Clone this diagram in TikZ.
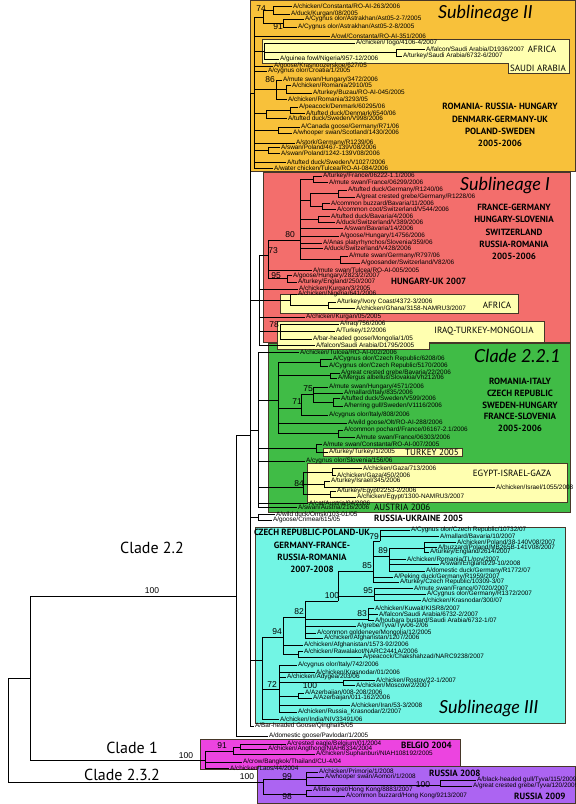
\documentclass[tikz,border=0pt]{standalone}
\usepackage{fontspec}
\setmainfont{Liberation Sans}
\newfontfamily\lbl{PT Sans}
\newfontfamily\ital{Lato}
\definecolor{orangeC}{RGB}{248,193,58}
\definecolor{redC}{RGB}{243,110,108}
\definecolor{greenC}{RGB}{64,188,70}
\definecolor{cyanC}{RGB}{114,245,228}
\definecolor{magC}{RGB}{236,68,224}
\definecolor{purpC}{RGB}{172,100,242}
\definecolor{yelC}{RGB}{255,255,176}
\definecolor{bordC}{RGB}{70,55,40}
\tikzset{
 leaf/.style={anchor=west, inner sep=0.8pt, font=\fontsize{6.4}{7}\selectfont},
 br/.style={line width=0.5pt, black},
 bs/.style={font=\fontsize{8.5}{9}\selectfont, inner sep=0},
 box/.style={draw=bordC, line width=0.6pt},
 reg/.style={font=\lbl\bfseries\fontsize{9}{12.3}\selectfont, align=center, inner sep=0},
 regn/.style={font=\lbl\fontsize{9}{11}\selectfont, inner sep=0},
 subl/.style={font=\ital\itshape\fontsize{18}{18}\selectfont, anchor=base west, inner sep=0},
 clade/.style={font=\lbl\fontsize{16}{16}\selectfont, inner sep=0},
}
\newcommand{\tleaf}[5]{\node[leaf] (#1) at (#3,#4) {#5}; \draw[br] (#2) |- (#1.west);}
\newcommand{\tnode}[4]{\coordinate (#1) at (#3,#4); \draw[br] (#2) |- (#1);}
\begin{document}
\begin{tikzpicture}[x=1pt,y=-1pt]
\useasboundingbox (0,0) rectangle (576,804);
\fill[white] (0,0) rectangle (576,804);
% ---------- coloured regions ----------
\draw[box,fill=orangeC] (250,0) rectangle (575.5,171);
\draw[box,fill=redC] (263,172) rectangle (570,342);
\draw[box,fill=greenC] (268,343) rectangle (570,512);
\draw[box,fill=cyanC] (255,527) rectangle (565,723);
\draw[box,fill=magC] (200,739) rectangle (460,769);
\draw[box,fill=purpC] (257,766) rectangle (575.5,803.5);
\draw[box,fill=yelC] (262,39) -- (569,39) -- (569,73) -- (508,73) -- (508,63) -- (262,63) -- cycle;
\draw[box,fill=yelC] (280,294) rectangle (518,313);
\draw[box,fill=yelC] (277,321) -- (544,321) -- (544,342) -- (429,342) -- (429,349) -- (277,349) -- cycle;
\draw[box,fill=yelC] (323,448) rectangle (462,456);
\draw[box,fill=yelC] (307,463) rectangle (567,502);
% ---------- backbone ----------
\coordinate (R) at (8,730);
\tnode{N1}{R}{30}{678}
\tnode{C232}{R}{263}{782}
\tnode{C22}{N1}{236}{596}
\tnode{C1}{N1}{205}{760}
\tnode{B}{C22}{250}{435}
\tleaf{pav}{C22}{268}{736}{A/domestic goose/Pavlodar/1/2005}
% ---------- Sublineage II ----------
\tnode{O}{B}{254}{93}
\tnode{O74}{O}{263}{17}
\tnode{O74a}{O74}{273}{10}
\tleaf{o1}{O74a}{292}{6}{A/chicken/Constanta/RO-AI-263/2006}
\tleaf{o2}{O74a}{290}{14}{A/duck/Kurgan/08/2005}
\tnode{O91}{O74}{283}{23}
\tleaf{o3}{O91}{304}{19}{A/Cygnus olor/Astrakhan/Ast05-2-7/2005}
\tleaf{o4}{O91}{297}{27}{A/Cygnus olor/Astrakhan/Ast05-2-8/2005}
\tleaf{o5}{O}{330}{36}{A/owl/Constanta/RO-AI-351/2006}
\tnode{OA}{O}{264}{51}
\tleaf{o6}{OA}{355}{43}{A/chicken/Togo/4106-4/2007}
\tnode{OS}{OA}{396}{52}
\tleaf{o7}{OS}{425}{49}{A/falcon/Saudi Arabia/D1936/2007}
\tleaf{o8}{OS}{402}{56}{A/turkey/Saudi Arabia/6732-6/2007}
\tleaf{o9}{OA}{279}{59}{A/guinea fowl/Nigeria/957-12/2006}
\tleaf{o10}{O}{273}{66}{A/goose/Krasnoozerskoe/627/05}
\tleaf{o11}{O}{267}{71}{A/cygnus olor/Croatia/1/2005}
\tnode{O86}{O}{276}{89}
\tleaf{o12}{O86}{282}{80}{A/mute swan/Hungary/3472/2006}
\tnode{ORo}{O86}{286}{89}
\tleaf{o13}{ORo}{291}{85}{A/chicken/Romania/2910/05}
\tleaf{o14}{ORo}{312}{93}{A/turkey/Buzau/RO-AI-045/2005}
\tleaf{o15}{O86}{287}{99}{A/chicken/Romania/3293/05}
\tnode{OD}{O}{266}{113}
\tnode{OD1}{OD}{290}{110}
\tleaf{o16}{OD1}{298}{107}{A/peacock/Denmark/60295/06}
\tleaf{o17}{OD1}{305}{113}{A/tufted duck/Denmark/6540/06}
\tleaf{o18}{OD}{287}{118}{A/tufted duck/Sweden/V998/2006}
\tnode{OC}{O}{278}{130}
\tleaf{o19}{OC}{300}{127}{A/Canada goose/Germany/R71/06}
\tleaf{o20}{OC}{292}{133}{A/whooper swan/Scotland/1430/2006}
\tleaf{o21}{O}{295}{143}{A/stork/Germany/R1239/06}
\tnode{OP}{O}{268}{150}
\tleaf{o22}{OP}{280}{147}{A/swan/Poland/467-139V08/2006}
\tleaf{o23}{OP}{280}{153}{A/swan/Poland/1242-139V08/2006}
\tleaf{o24}{O}{286}{162}{A/tufted duck/Sweden/V1027/2006}
\tleaf{o25}{O}{273}{168}{A/water chicken/Tulcea/RO-AI-084/2006}
% ---------- Sublineage I ----------
\tnode{RA}{B}{259}{300}
\tnode{R73}{RA}{268}{255}
\tnode{R80}{R73}{300}{240}
\tnode{RFr}{R80}{313}{179}
\tleaf{r1}{RFr}{322}{176}{A/turkey/France/06222-1.1/2006}
\tleaf{r2}{RFr}{328}{182}{A/mute swan/France/06299/2006}
\tnode{RG1}{R80}{310}{200}
\tnode{RG1a}{RG1}{338}{193}
\tleaf{r3}{RG1a}{347}{190}{A/tufted duck/Germany/R1240/06}
\tleaf{r4}{RG1a}{355}{197}{A/great crested grebe/Germany/R1228/06}
\tnode{RG1b}{RG1}{322}{206}
\tleaf{r5}{RG1b}{330}{203}{A/common buzzard/Bavaria/11/2006}
\tleaf{r6}{RG1b}{336}{209}{A/common coot/Switzerland/V544/2006}
\tnode{RB}{R80}{318}{219}
\tleaf{r7}{RB}{330}{216}{A/tufted duck/Bavaria/4/2006}
\tleaf{r8}{RB}{335}{222}{A/duck/Switzerland/V389/2006}
\tleaf{r9}{R80}{343}{228}{A/swan/Bavaria/14/2006}
\tleaf{r10}{R80}{339}{236}{A/goose/Hungary/14756/2006}
\tleaf{r11}{R80}{322}{243}{A/Anas platyrhynchos/Slovenia/359/06}
\tleaf{r12}{R80}{323}{248}{A/duck/Switzerland/V428/2006}
\tnode{RM}{R80}{340}{259}
\tleaf{r13}{RM}{348}{256}{A/mute swan/Germany/R797/06}
\tleaf{r14}{RM}{360}{263}{A/goosander/Switzerland/V82/06}
\tleaf{r15}{R73}{312}{270}{A/mute swan/Tulcea/RO-AI-005/2005}
\tnode{R95}{R73}{287}{278}
\tleaf{r16}{R95}{292}{275.5}{A/goose/Hungary/2823/2/2007}
\tleaf{r17}{R95}{297}{282}{A/turkey/England/250/2007}
\tleaf{r18}{RA}{298}{289}{A/chicken/Kurgan/3/2005}
\tnode{RAf}{RA}{290}{300}
\tleaf{r19}{RAf}{297}{294}{A/chicken/Nigeria/641/2006}
\tnode{RAf2}{RAf}{328}{305}
\tleaf{r20}{RAf2}{336}{302}{A/turkey/Ivory Coast/4372-3/2006}
\tleaf{r21}{RAf2}{355}{308}{A/chicken/Ghana/3158-NAMRU3/2007}
\tleaf{r22}{RA}{305}{317}{A/chicken/Kurgan/05/2005}
\tnode{R78}{RA}{280}{331}
\tleaf{r23}{R78}{339}{324}{A/Iraq/756/2006}
\tleaf{r24}{R78}{335}{331}{A/Turkey/12/2006}
\tleaf{r25}{R78}{312}{339}{A/bar-headed goose/Mongolia/1/05}
\tleaf{r26}{RA}{315}{345}{A/falcon/Saudi Arabia/D1795/2005}
% ---------- Clade 2.2.1 ----------
\tnode{G}{B}{258}{430}
\tleaf{g1}{G}{299}{352}{A/chicken/Tulcea/RO-AI-002/2006}
\tnode{G2}{G}{278}{400}
\tnode{GC}{G2}{320}{362}
\tleaf{g2}{GC}{332}{359}{A/Cygnus olor/Czech Republic/6208/06}
\tleaf{g3}{GC}{328}{366}{A/Cygnus olor/Czech Republic/5170/2006}
\tnode{GB}{G2}{330}{375}
\tleaf{g4}{GB}{340}{373}{A/great crested grebe/Bavaria/22/2006}
\tleaf{g5}{GB}{337}{378}{A/Mergus albellus/Slovakia/Vh212/06}
\tnode{G71}{G2}{301}{408}
\tnode{G75}{G71}{313}{394}
\tleaf{g6}{G75}{328}{387}{A/mute swan/Hungary/4571/2006}
\tleaf{g7}{G75}{343}{393}{A/mallard/Italy/835/2006}
\tnode{GS}{G75}{333}{402}
\tleaf{g8}{GS}{340}{398}{A/tufted duck/Sweden/V599/2006}
\tleaf{g9}{GS}{343}{406}{A/herring gull/Sweden/V1116/2006}
\tleaf{g10}{G71}{328}{415}{A/cygnus olor/Italy/808/2006}
\tleaf{g11}{G2}{347}{423}{A/wild goose/Olt/RO-AI-288/2006}
\tnode{GF}{G2}{338}{433}
\tleaf{g12}{GF}{343}{430}{A/common pochard/France/06167-2.1/2006}
\tleaf{g13}{GF}{355}{437}{A/mute swan/France/06303/2006}
\tnode{GT}{G}{316}{448}
\tleaf{g14}{GT}{322}{444}{A/mute swan/Constanta/RO-AI-007/2005}
\tleaf{g15}{GT}{328}{452}{A/turkey/Turkey/1/2005}
\tleaf{g16}{G}{305}{461}{A/cygnus olor/Slovenia/156/06}
\tnode{G84}{G}{303}{487}
\tnode{GG}{G84}{332}{472}
\tleaf{g17}{GG}{362}{468}{A/chicken/Gaza/713/2006}
\tleaf{g18}{GG}{336}{475}{A/chicken/Gaza/450/2006}
\tnode{GI}{G84}{324}{484}
\tleaf{g19}{GI}{330}{481}{A/turkey/Israel/345/2006}
\tleaf{g20}{GI}{495}{487}{A/chicken/Israel/1055/2008}
\tnode{GE}{G84}{330}{494}
\tleaf{g21}{GE}{336}{491}{A/turkey/Egypt/2253-2/2006}
\tleaf{g22}{GE}{356}{497}{A/chicken/Egypt/1300-NAMRU3/2007}
\tleaf{g23}{G}{308}{503}{A/cat/Austria/04/2006}
\tleaf{g24}{G}{297}{507.5}{A/swan/Austria/216/2006}
% ---------- Omsk / Crimea ----------
\tnode{OK}{B}{258}{517}
\tleaf{k1}{OK}{275}{514}{A/wild duck/Omsk/103-01/05}
\tleaf{k2}{OK}{272}{520}{A/goose/Crimea/615/05}
% ---------- Sublineage III ----------
\tnode{CY}{B}{262}{660}
\tnode{C94}{CY}{283}{637}
\tnode{C82}{C94}{305}{617}
\tnode{C100}{C82}{338}{601}
\tnode{C85}{C100}{373}{571}
\tnode{C79}{C85}{380}{541}
\tleaf{c1}{C79}{410}{530}{A/Cygnus olor/Czech Republic/10732/07}
\tleaf{c2}{C79}{439}{536}{A/mallard/Bavaria/10/2007}
\tnode{C89}{C85}{389}{556}
\tnode{CP}{C89}{424}{548}
\tleaf{c3}{CP}{456}{542}{A/chicken/Poland/38-140V08/2007}
\tleaf{c4}{CP}{437}{547}{A/buzzard/Poland/MB265B-141V08/2007}
\tleaf{c5}{CP}{429}{552}{A/turkey/England/2614/2007}
\tleaf{c6}{C89}{406}{559}{A/chicken/Romania/TL/nov/2007}
\tleaf{c7}{C89}{439}{564}{A/swan/England/29-10/2008}
\tleaf{c8}{C89}{425}{571}{A/domestic duck/Germany/R1772/07}
\tleaf{c9}{C85}{393}{577}{A/Peking duck/Germany/R1959/2007}
\tleaf{c10}{C85}{399}{582}{A/turkey/Czech Republic/10309-3/07}
\tnode{C95}{C100}{374}{596}
\tleaf{c11}{C95}{413}{588}{A/mute swan/France/07020/2007}
\tleaf{c12}{C95}{426}{594}{A/Cygnus olor/Germany/R1372/2007}
\tleaf{c13}{C95}{421}{600}{A/chicken/Krasnodar/300/07}
\tnode{C83}{C82}{368}{619}
\tleaf{c14}{C83}{374}{608}{A/chicken/Kuwait/KISR8/2007}
\tleaf{c15}{C83}{378}{614}{A/falcon/Saudi Arabia/6732-2/2007}
\tleaf{c16}{C83}{374}{620}{A/houbara bustard/Saudi Arabia/6732-1/07}
\tleaf{c17}{C82}{356}{626}{A/grebe/Tyva/Tyv06-2/06}
\tleaf{c18}{C82}{316}{633}{A/common goldeneye/Mongolia/12/2005}
\tleaf{c19}{C82}{323}{638}{A/chicken/Afghanistan/1207/2006}
\tleaf{c20}{C94}{303}{645}{A/chicken/Afghanistan/1573-92/2006}
\tnode{CR}{C94}{298}{654}
\tleaf{c21}{CR}{303}{651}{A/chicken/Rawalakot/NARC2441A/2006}
\tleaf{c22}{CR}{362}{657}{A/peacock/Chakshahzad/NARC9238/2007}
\tnode{C72}{CY}{279}{689}
\tleaf{c23}{C72}{297}{665}{A/cygnus olor/Italy/742/2006}
\tleaf{c24}{C72}{315}{672}{A/chicken/Krasnodar/01/2006}
\tleaf{c25}{C72}{286}{677}{A/chicken/Adygea/203/06}
\tnode{C100b}{C72}{343}{682}
\tleaf{c26}{C100b}{375}{680}{A/chicken/Rostov/22-1/2007}
\tleaf{c27}{C100b}{355}{685}{A/chicken/Moscow/2/2007}
\tnode{CA}{C72}{298}{696}
\tleaf{c28}{CA}{304}{693}{A/Azerbaijan/008-208/2006}
\tleaf{c29}{CA}{312}{698}{A/Azerbaijan/011-162/2006}
\tleaf{c30}{C72}{350}{705}{A/chicken/Iran/53-3/2008}
\tleaf{c31}{C72}{297}{712}{A/chicken/Russia\_Krasnodar/2/2007}
\tleaf{c32}{CY}{279}{719}{A/chicken/India/NIV33491/06}
\tleaf{c33}{B}{254}{726}{A/Bar-headed Goose/Qinghai/5/05}
% ---------- Clade 1 ----------
\tnode{M91}{C1}{233}{751}
\tnode{M1}{M91}{240}{747}
\tleaf{m1}{M1}{286}{744}{A/crested eagle/Belgium/01/2004}
\tleaf{m2}{M1}{267}{749}{A/chicken/Angthong/NIAH6334/2004}
\tleaf{m3}{M91}{315}{754}{A/chicken/Suphanburi/NIAH108192/2005}
\tleaf{m4}{C1}{242}{762}{A/crow/Bangkok/Thailand/CU-4/04}
\tleaf{m5}{C1}{229}{768}{A/chicken/Laos/44/2004}
% ---------- Clade 2.3.2 ----------
\tnode{P99}{C232}{306}{779}
\tleaf{p1}{P99}{318}{772}{A/chicken/Primorje/1/2008}
\tleaf{p2}{P99}{324}{777}{A/whooper swan/Aomori/1/2008}
\tnode{PT}{P99}{440}{785}
\tleaf{p3}{PT}{476}{780}{A/black-headed gull/Tyva/115/2009}
\tleaf{p4}{PT}{472}{786}{A/great crested grebe/Tyva/120/2009}
\tnode{P98}{C232}{306}{794}
\tleaf{p5}{P98}{312}{790}{A/little egret/Hong Kong/8883/2007}
\tleaf{p6}{P98}{345}{796}{A/common buzzard/Hong Kong/9213/2007}
% ---------- bootstrap values ----------
\node[bs] (b1) at (261,9) {74};
\node[bs] (b2) at (278,27) {91};
\node[bs] (b3) at (270,80) {86};
\node[bs] (b4) at (290,235) {80};
\node[bs] (b5) at (273,251) {73};
\node[bs] (b6) at (276,276) {95};
\node[bs] (b7) at (274,325) {78};
\node[bs] (b8) at (308,389) {75};
\node[bs] (b9) at (297,402) {71};
\node[bs] (b10) at (299,484) {84};
\node[bs] (b11) at (374,537) {79};
\node[bs] (b12) at (383,551) {89};
\node[bs] (b13) at (367,566) {85};
\node[bs] (b14) at (368,591) {95};
\node[bs] (b15) at (332,596) {100};
\node[bs] (b16) at (299,612) {82};
\node[bs] (b17) at (362,614) {83};
\node[bs] (b18) at (277,632) {94};
\node[bs] (b19) at (272,685) {72};
\node[bs] (b20) at (310,686) {100};
\node[bs] (b21) at (152,591) {100};
\node[bs] (b22) at (222,746) {91};
\node[bs] (b23) at (186,756) {100};
\node[bs] (b24) at (247,777) {100};
\node[bs] (b25) at (287,777) {99};
\node[bs] (b26) at (287,797) {98};
\node[bs] (b27) at (423,785) {100};
% ---------- region titles ----------
\node[subl] (t1) at (438,18) {Sublineage II};
\node[subl] (t2) at (460,190) {Sublineage I};
\node[subl] (t3) at (474,362) {Clade 2.2.1};
\node[subl] (t4) at (439,713) {Sublineage III};
\node[reg] (t5) at (500,125) {ROMANIA- RUSSIA- HUNGARY\\DENMARK-GERMANY-UK\\POLAND-SWEDEN\\2005-2006};
\node[reg] (t6) at (514,232) {FRANCE-GERMANY\\HUNGARY-SLOVENIA\\SWITZERLAND\\RUSSIA-ROMANIA\\2005-2006};
\node[reg, font=\lbl\bfseries\fontsize{9}{11.8}\selectfont] (t7) at (520,405) {ROMANIA-ITALY\\CZECH REPUBLIC\\SWEDEN-HUNGARY\\FRANCE-SLOVENIA\\2005-2006};
\node[reg] (t8) at (312,551) {CZECH REPUBLIC-POLAND-UK\\GERMANY-FRANCE-\\RUSSIA-ROMANIA\\2007-2008};
\node[regn] (t9) at (542,49) {AFRICA};
\node[regn] (t10) at (538,68) {SAUDI ARABIA};
\node[regn] (t11) at (497,305) {AFRICA};
\node[regn] (t12) at (484,331) {IRAQ-TURKEY-MONGOLIA};
\node[reg, anchor=west] (t13) at (391,281) {HUNGARY-UK 2007};
\node[regn] (t14) at (432,452) {TURKEY 2005};
\node[regn] (t15) at (512,473) {EGYPT-ISRAEL-GAZA};
\node[regn, anchor=west] (t16) at (374,507) {AUSTRIA 2006};
\node[reg, anchor=west] (t17) at (374,518) {RUSSIA-UKRAINE 2005};
\node[reg, anchor=west] (t18) at (401,745) {BELGIO 2004};
\node[reg, anchor=west] (t19) at (429,773) {RUSSIA 2008};
\node[reg, anchor=west] (t20) at (514,796) {RUSSIA 2009};
% ---------- clade labels ----------
\node[clade] (k1) at (152,548) {Clade 2.2};
\node[clade] (k2) at (132,748) {Clade 1};
\node[clade] (k3) at (122,775) {Clade 2.3.2};
\end{tikzpicture}
\end{document}
